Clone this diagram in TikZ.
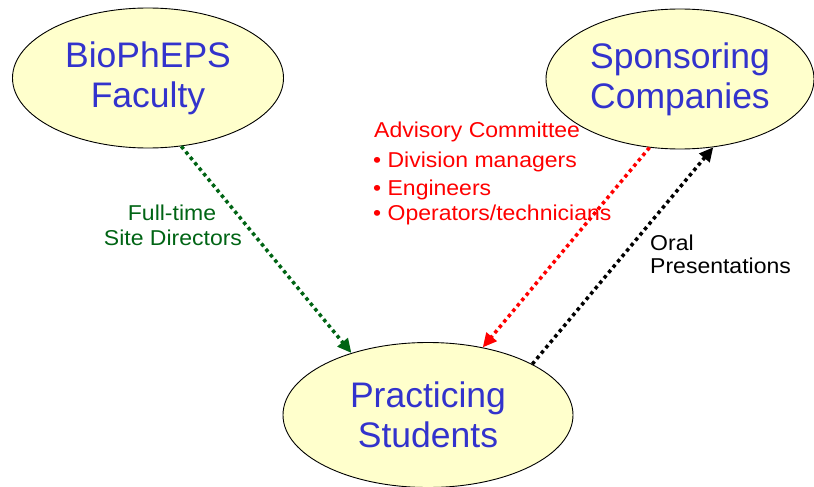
\documentclass[tikz,border=0pt]{standalone}
\usepackage{fontspec}
\setmainfont{Liberation Sans}
\newfontfamily\lblfont[FakeStretch=1.07]{Liberation Sans}
\usetikzlibrary{arrows.meta,shapes.geometric}
\definecolor{ellfill}{RGB}{255,255,204}
\definecolor{elltext}{RGB}{51,51,204}
\definecolor{dgreen}{RGB}{0,100,20}
\tikzset{
  bubble/.style={ellipse, draw=black, line width=0.9pt, fill=ellfill, text=elltext,
    inner sep=0pt, align=center, font=\fontsize{35.5}{40}\selectfont},
  link/.style={line width=3.5pt, dash pattern=on 3.5pt off 3.5pt,
    -{Triangle[length=14pt,width=13pt]}},
  lbl/.style={inner sep=0pt, font=\lblfont\fontsize{21.5}{24}\selectfont},
}
\begin{document}
\begin{tikzpicture}[x=1pt,y=-1pt]
\useasboundingbox (0,0) rectangle (814,487);
\node[bubble, minimum width=271pt, minimum height=140pt] (bio) at (148,78) {BioPhEPS\\Faculty};
\node[bubble, minimum width=268pt, minimum height=140pt] (spons) at (680,79) {Sponsoring\\Companies};
\node[bubble, minimum width=290pt, minimum height=145pt] (pract) at (428,415) {Practicing\\Students};

\draw[link, dgreen] (bio.-64) -- (pract.141);
\draw[link, red] (spons.-114) -- (pract.51);
\draw[link, black] (pract.26) -- (spons.-64);

\node[lbl, text=red, anchor=base west] (adv) at (374,137) {Advisory Committee};
\node[lbl, text=red, anchor=base west] (div) at (373,167) {• Division managers};
\node[lbl, text=red, anchor=base west] (eng) at (373,195) {• Engineers};
\node[lbl, text=red, anchor=base west] (ops) at (373,220) {• Operators/technicians};

\node[lbl, text=dgreen, anchor=base] (ft) at (172,220) {Full-time};
\node[lbl, text=dgreen, anchor=base] (sd) at (173,245) {Site Directors};

\node[lbl, text=black, anchor=base west] (oral) at (650,250) {Oral};
\node[lbl, text=black, anchor=base west] (pres) at (650,273) {Presentations};
\end{tikzpicture}
\end{document}
